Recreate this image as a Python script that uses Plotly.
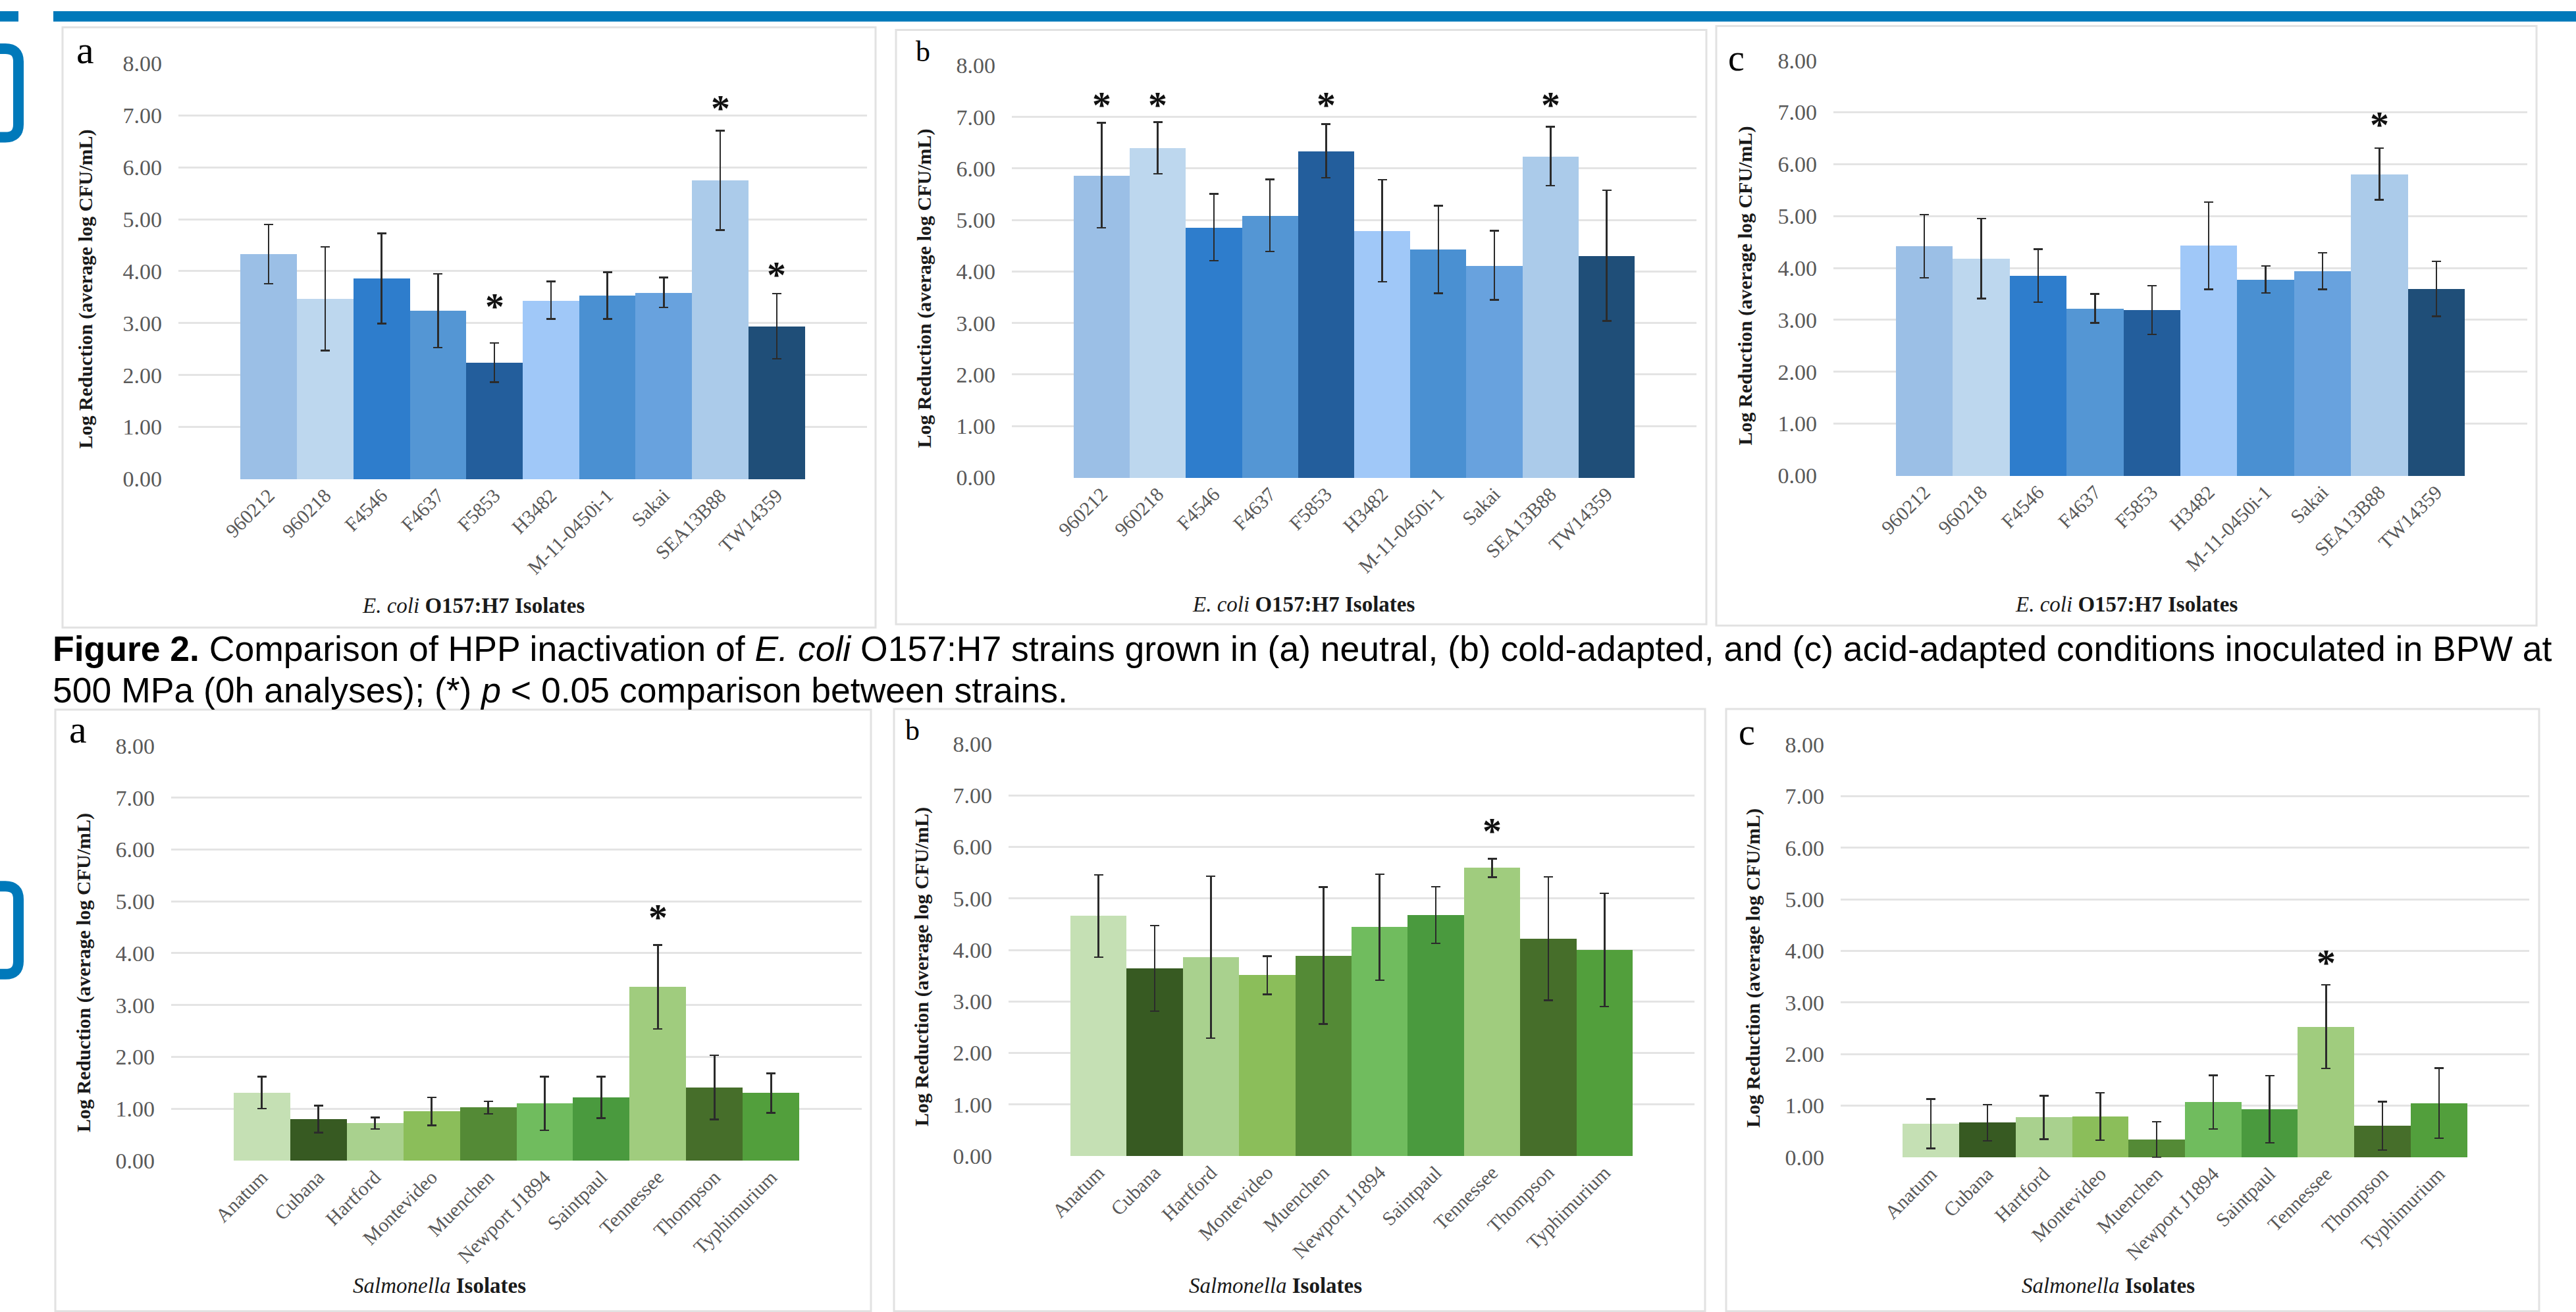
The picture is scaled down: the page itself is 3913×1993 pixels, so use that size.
import plotly.graph_objects as go

W, H = 3913, 1993

# ---------------- data ----------------
ecoli_isolates = ["960212", "960218", "F4546", "F4637", "F5853", "H3482",
                  "M-11-0450i-1", "Sakai", "SEA13B88", "TW14359"]
ecoli_neutral = [4.33, 3.47, 3.86, 3.24, 2.24, 3.44, 3.53, 3.59, 5.75, 2.94]
ecoli_neutral_err = [0.57, 1.00, 0.87, 0.71, 0.38, 0.36, 0.45, 0.29, 0.96, 0.63]
ecoli_cold = [5.87, 6.40, 4.86, 5.09, 6.34, 4.79, 4.43, 4.12, 6.24, 4.31]
ecoli_cold_err = [1.02, 0.50, 0.65, 0.70, 0.52, 0.99, 0.85, 0.67, 0.57, 1.27]
ecoli_acid = [4.42, 4.18, 3.85, 3.22, 3.19, 4.43, 3.78, 3.94, 5.81, 3.60]
ecoli_acid_err = [0.61, 0.77, 0.51, 0.28, 0.47, 0.84, 0.26, 0.35, 0.50, 0.53]

salm_isolates = ["Anatum", "Cubana", "Hartford", "Montevideo", "Muenchen",
                 "Newport J1894", "Saintpaul", "Tennessee", "Thompson", "Typhimurium"]
salm_neutral = [1.31, 0.80, 0.72, 0.95, 1.02, 1.10, 1.22, 3.35, 1.41, 1.30]
salm_neutral_err = [0.31, 0.26, 0.11, 0.27, 0.12, 0.52, 0.40, 0.81, 0.62, 0.38]
salm_cold = [4.66, 3.64, 3.86, 3.51, 3.89, 4.44, 4.68, 5.59, 4.22, 4.00]
salm_cold_err = [0.80, 0.83, 1.57, 0.37, 1.33, 1.03, 0.55, 0.18, 1.20, 1.10]
salm_acid = [0.65, 0.67, 0.77, 0.79, 0.34, 1.07, 0.93, 2.53, 0.61, 1.05]
salm_acid_err = [0.48, 0.35, 0.42, 0.46, 0.35, 0.52, 0.65, 0.81, 0.47, 0.68]

# significance stars (category -> height of star)
stars_ecoli_neutral = {"F5853": 3.44, "SEA13B88": 7.25, "TW14359": 4.04}
stars_ecoli_cold = {"960212": 7.35, "960218": 7.35, "F5853": 7.35, "SEA13B88": 7.35}
stars_ecoli_acid = {"SEA13B88": 6.87}
stars_salm_neutral = {"Tennessee": 4.81}
stars_salm_cold = {"Tennessee": 6.42}
stars_salm_acid = {"Tennessee": 3.88}

y_ticks = [0, 1, 2, 3, 4, 5, 6, 7, 8]
y_tick_labels = ["0.00", "1.00", "2.00", "3.00", "4.00", "5.00", "6.00", "7.00", "8.00"]

blue_colors = ["#9BBFE6", "#BDD7EE", "#2E7DCC", "#5496D4", "#235E9C",
               "#A0C8F8", "#4A90D2", "#68A2DE", "#ABCBEA", "#1F4E78"]
green_colors = ["#C5E0B4", "#375A22", "#A9D18E", "#8BBE5A", "#548A36",
                "#70BC5E", "#4A9A3E", "#A0CC7E", "#466E2A", "#529F3C"]

# ---------------- layout helpers (pixel -> paper) ----------------
def px(x):
    return x / W

def py(y):
    return 1 - y / H

SERIF = "Liberation Serif"
SANS = "Liberation Sans"

panels = [
    dict(v=ecoli_neutral, e=ecoli_neutral_err, cats=ecoli_isolates, col=blue_colors,
         stars=stars_ecoli_neutral, area=(271, 1317, 80, 724), lab="a", labpos=(129, 60), labsize=60,
         ytpos=(130, 430), xtpos=(719, 919), xt="<i>E. coli</i> <b>O157:H7 Isolates</b>",
         box=(95, 1330, 25, 953)),
    dict(v=ecoli_cold, e=ecoli_cold_err, cats=ecoli_isolates, col=blue_colors,
         stars=stars_ecoli_cold, area=(1537, 2577, 83, 722), lab="b", labpos=(1402, 63), labsize=44,
         ytpos=(1404, 429), xtpos=(1980, 917), xt="<i>E. coli</i> <b>O157:H7 Isolates</b>",
         box=(1361, 2592, 29, 948)),
    dict(v=ecoli_acid, e=ecoli_acid_err, cats=ecoli_isolates, col=blue_colors,
         stars=stars_ecoli_acid, area=(2785, 3839, 75, 719), lab="c", labpos=(2637, 72), labsize=56,
         ytpos=(2651, 425), xtpos=(3230, 917), xt="<i>E. coli</i> <b>O157:H7 Isolates</b>",
         box=(2607, 3853, 23, 950)),
    dict(v=salm_neutral, e=salm_neutral_err, cats=salm_isolates, col=green_colors,
         stars=stars_salm_neutral, area=(260, 1309, 1135, 1778), lab="a", labpos=(118, 1110), labsize=60,
         ytpos=(127, 1486), xtpos=(667, 1971), xt="<i>Salmonella</i> <b>Isolates</b>",
         box=(84, 1323, 1080, 2010)),
    dict(v=salm_cold, e=salm_cold_err, cats=salm_isolates, col=green_colors,
         stars=stars_salm_cold, area=(1532, 2574, 1132, 1771), lab="b", labpos=(1386, 1112), labsize=44,
         ytpos=(1400, 1478), xtpos=(1937, 1971), xt="<i>Salmonella</i> <b>Isolates</b>",
         box=(1358, 2590, 1079, 2010)),
    dict(v=salm_acid, e=salm_acid_err, cats=salm_isolates, col=green_colors,
         stars=stars_salm_acid, area=(2796, 3842, 1133, 1773), lab="c", labpos=(2653, 1115), labsize=56,
         ytpos=(2663, 1480), xtpos=(3202, 1971), xt="<i>Salmonella</i> <b>Isolates</b>",
         box=(2622, 3857, 1079, 2010)),
]

fig = go.Figure()
shapes = []
annotations = []

BORDER = "#E2E2E2"
BLUE = "#0079BA"

for i, p in enumerate(panels):
    n = i + 1
    xa = "x" if n == 1 else f"x{n}"
    ya = "y" if n == 1 else f"y{n}"
    fig.add_trace(go.Bar(
        x=p["cats"], y=p["v"],
        marker=dict(color=p["col"], line=dict(width=0)),
        error_y=dict(type="data", array=p["e"], visible=True,
                     color="#2B2B2B", thickness=2.5, width=7),
        xaxis=xa, yaxis=ya, showlegend=False, hoverinfo="skip",
    ))
    x0, x1, yt, yb = p["area"]
    axx = dict(domain=[px(x0), px(x1)], anchor=ya, type="category",
               categoryorder="array", categoryarray=p["cats"],
               range=[-1.6, 10.6], tickangle=-45, showgrid=False, zeroline=False,
               showline=False, ticks="", tickfont=dict(family=SERIF, size=30, color="#595959"),
               fixedrange=True)
    axy = dict(domain=[py(yb), py(yt)], anchor=xa, range=[-0.012, 8.012],
               tickvals=y_ticks, ticktext=y_tick_labels, showgrid=True,
               gridcolor="#E4E4E4", gridwidth=2.5, zeroline=False, showline=False,
               ticks="", ticklabelstandoff=24,
               tickfont=dict(family=SERIF, size=34, color="#595959"), fixedrange=True)
    fig.update_layout(**{("xaxis" if n == 1 else f"xaxis{n}"): axx,
                         ("yaxis" if n == 1 else f"yaxis{n}"): axy})

    # stars (placed by category index so numeric-looking names are not misread)
    for cat, yv in p["stars"].items():
        annotations.append(dict(x=p["cats"].index(cat), y=yv, xref=xa, yref=ya, text="<b>*</b>",
                                showarrow=False, yshift=-9,
                                font=dict(family=SERIF, size=58, color="#111111")))
    # panel letter
    lx, ly = p["labpos"]
    annotations.append(dict(x=px(lx), y=py(ly), xref="paper", yref="paper", text=p["lab"],
                            showarrow=False, xanchor="center", yanchor="middle",
                            font=dict(family=SERIF, size=p["labsize"], color="#000000")))
    # y title
    tx, ty = p["ytpos"]
    annotations.append(dict(x=px(tx), y=py(ty), xref="paper", yref="paper",
                            text="<b>Log Reduction (average log CFU/mL)</b>", textangle=-90,
                            showarrow=False, xanchor="center", yanchor="middle",
                            font=dict(family=SERIF, size=30, color="#1A1A1A")))
    # x title
    tx, ty = p["xtpos"]
    annotations.append(dict(x=px(tx), y=py(ty), xref="paper", yref="paper", text=p["xt"],
                            showarrow=False, xanchor="center", yanchor="middle",
                            font=dict(family=SERIF, size=33, color="#1A1A1A")))
    # chart border box
    bx0, bx1, by0, by1 = p["box"]
    shapes.append(dict(type="rect", xref="paper", yref="paper",
                       x0=px(bx0), x1=px(bx1), y0=py(by1), y1=py(by0),
                       line=dict(color=BORDER, width=3), fillcolor="rgba(0,0,0,0)", layer="below"))

# caption
cap1 = ("<b>Figure 2.</b> Comparison of HPP inactivation of <i>E. coli</i> O157:H7 strains grown in "
        "(a) neutral, (b) cold-adapted, and (c) acid-adapted conditions inoculated in BPW at")
cap2 = "500 MPa (0h analyses); (*) <i>p</i> &lt; 0.05 comparison between strains."
annotations.append(dict(x=px(78), y=py(986), xref="paper", yref="paper", text=cap1,
                        showarrow=False, xanchor="left", yanchor="middle",
                        font=dict(family=SANS, size=53.5, color="#000000")))
annotations.append(dict(x=px(78), y=py(1050), xref="paper", yref="paper", text=cap2,
                        showarrow=False, xanchor="left", yanchor="middle",
                        font=dict(family=SANS, size=53.5, color="#000000")))

# top blue strip
shapes.append(dict(type="rect", xref="paper", yref="paper", x0=px(0), x1=px(28),
                   y0=py(16), y1=py(0), fillcolor=BLUE, line=dict(width=0)))
shapes.append(dict(type="rect", xref="paper", yref="paper", x0=px(81), x1=px(W + 5),
                   y0=py(16), y1=py(0), fillcolor=BLUE, line=dict(width=0)))

# left rounded brackets
def bracket(y0, y1, xc=28, r=20):
    path = f"M {px(-30)},{py(y0)} L {px(xc - r)},{py(y0)} "
    path += f"Q {px(xc)},{py(y0)} {px(xc)},{py(y0 + r)} "
    path += f"L {px(xc)},{py(y1 - r)} "
    path += f"Q {px(xc)},{py(y1)} {px(xc - r)},{py(y1)} "
    path += f"L {px(-30)},{py(y1)}"
    return dict(type="path", xref="paper", yref="paper", path=path,
                line=dict(color=BLUE, width=16), fillcolor="rgba(0,0,0,0)")

shapes.append(bracket(58, 195))
shapes.append(bracket(1353, 1489))

fig.update_layout(
    width=W, height=H, margin=dict(l=0, r=0, t=0, b=0),
    paper_bgcolor="white", plot_bgcolor="white",
    bargap=0, shapes=shapes, annotations=annotations,
    showlegend=False,
)

fig.write_html("out.html", config=dict(displayModeBar=False),
               post_script="document.body.style.margin='0';document.body.style.overflow='hidden';")
